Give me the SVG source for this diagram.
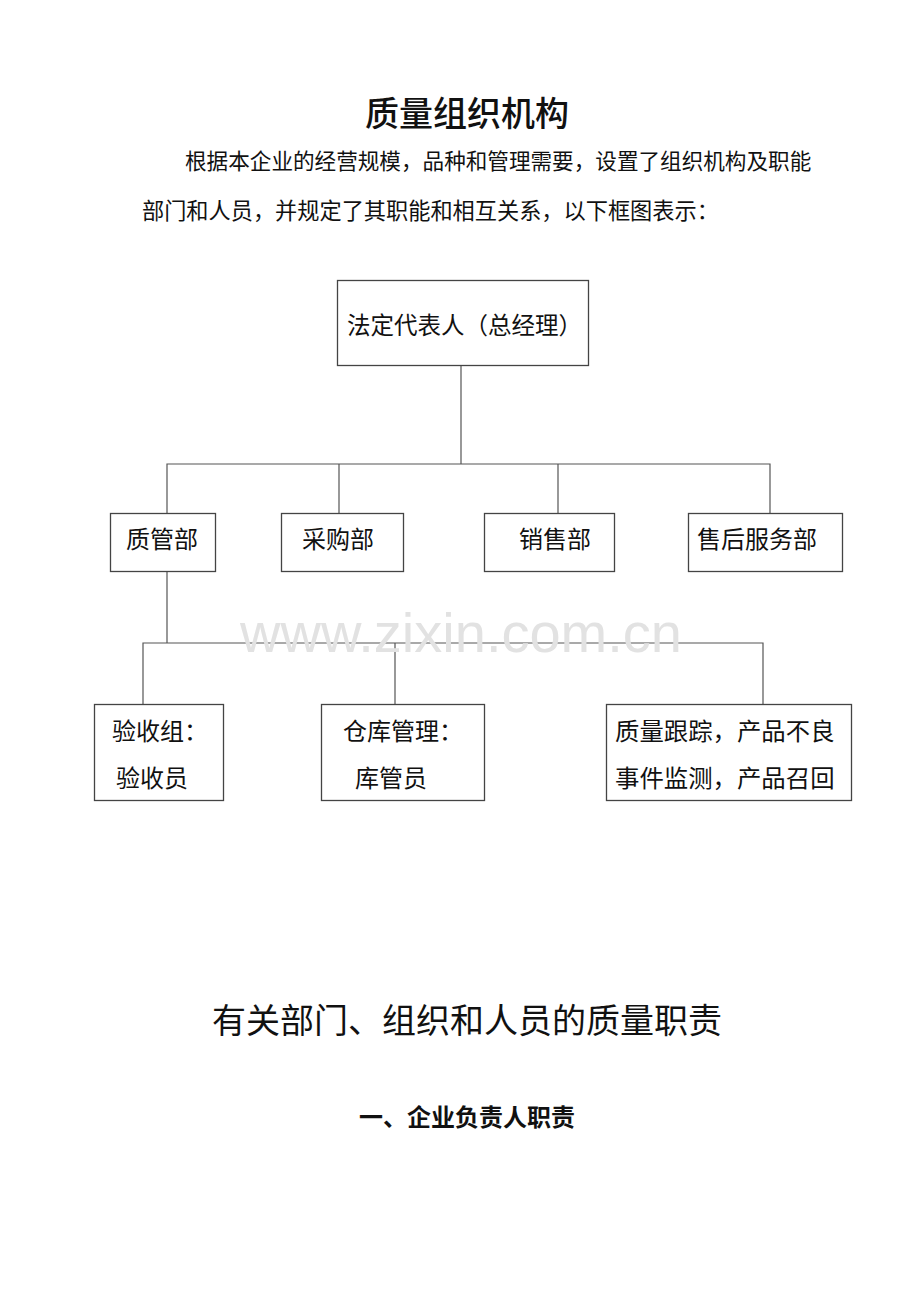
<svg xmlns="http://www.w3.org/2000/svg" width="920" height="1302" viewBox="0 0 920 1302">
<style>
text{font-family:"Noto Sans CJK SC","Liberation Sans",sans-serif;fill:#111}
.box{fill:#fff;stroke:#444;stroke-width:1.3}
.c{fill:none;stroke:#555;stroke-width:1.2}
.t{font-size:24px}
</style>
<rect width="920" height="1302" fill="#fff"/>
<text x="467" y="126" font-size="34" text-anchor="middle" font-weight="500">质量组织机构</text>
<text x="185" y="169" font-size="21.6">根据本企业的经营规模，品种和管理需要，设置了组织机构及职能</text>
<text x="142" y="219" font-size="22.2">部门和人员，并规定了其职能和相互关系，以下框图表示：</text>
<g id="connectors">
<path class="c" d="M461 365V464M167 513V464H770V513M339 464V513M558 464V513"/>
<path class="c" d="M167 572V643M143 704V643H763V704M395 643V704"/>
</g>
<text x="461" y="652" font-size="56" text-anchor="middle" style="fill:#e2e2e2;font-family:'Liberation Sans',sans-serif">www.zixin.com.cn</text>
<g id="n_fddbr"><rect class="box" x="337.5" y="280.5" width="251" height="85"/><text x="347" y="334" font-size="23.5">法定代表人（总经理）</text></g>
<g id="n_zgb"><rect class="box" x="110.5" y="513.5" width="105" height="58"/><text class="t" x="126" y="548">质管部</text></g>
<g id="n_cgb"><rect class="box" x="281.5" y="513.5" width="122" height="58"/><text class="t" x="302" y="548">采购部</text></g>
<g id="n_xsb"><rect class="box" x="484.5" y="513.5" width="130" height="58"/><text class="t" x="519" y="548">销售部</text></g>
<g id="n_shfwb"><rect class="box" x="688.5" y="513.5" width="154" height="58"/><text class="t" x="697" y="548">售后服务部</text></g>
<g id="n_ysz"><rect class="box" x="94.5" y="704.5" width="129" height="96"/><text class="t" x="112" y="740">验收组：</text><text class="t" x="116" y="787">验收员</text></g>
<g id="n_ckgl"><rect class="box" x="321.5" y="704.5" width="163" height="96"/><text class="t" x="343" y="740">仓库管理：</text><text class="t" x="355" y="787">库管员</text></g>
<g id="n_zlgz"><rect class="box" x="606.5" y="704.5" width="245" height="96"/><text class="t" x="615" y="740" style="font-size:24.4px">质量跟踪，产品不良</text><text class="t" x="615" y="787" style="font-size:24.4px">事件监测，产品召回</text></g>
<text x="467" y="1033" font-size="34" text-anchor="middle">有关部门、组织和人员的质量职责</text>
<text x="467" y="1126" font-size="24" text-anchor="middle" font-weight="bold">一、企业负责人职责</text>
</svg>
